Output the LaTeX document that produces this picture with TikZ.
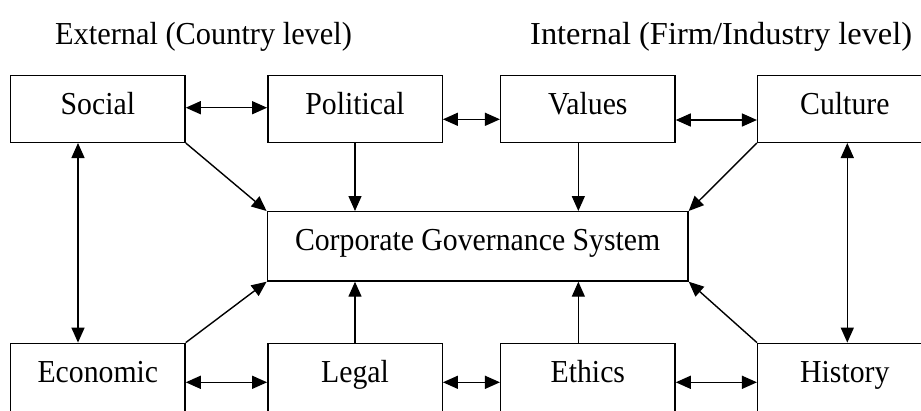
\documentclass[tikz,border=0pt]{standalone}
\usepackage{fontspec}
\usepackage{graphicx}
\setmainfont[FakeStretch=0.93]{Liberation Serif}
\usetikzlibrary{arrows.meta}
\tikzset{
  box/.style={draw, line width=1.4pt, rectangle, inner sep=0pt, minimum width=174.4pt, minimum height=66.6pt, text height=39pt, text depth=27.6pt},
  lowbox/.style={box, minimum height=68.4pt, text depth=29.4pt},
  corpbox/.style={draw, line width=1.4pt, rectangle, inner sep=0pt, minimum width=420.7pt, minimum height=69.3pt, text height=38.3pt, text depth=31pt},
  conn/.style={line width=1.4pt, -{Triangle[length=15pt,width=13pt]}},
  biconn/.style={line width=1.4pt, {Triangle[length=15pt,width=13pt]}-{Triangle[length=15pt,width=13pt]}},
  title/.style={anchor=base west, inner sep=0pt}
}
\begin{document}
\begin{tikzpicture}[x=1pt, y=-1pt, font=\fontsize{32}{36}\selectfont]
\useasboundingbox (0,0) rectangle (921,410);
\node[title] (ext) at (55,44.3) {\scalebox{1.02}[1]{External (Country level)}};
\node[title] (int) at (530,44.3) {\scalebox{1.09}[1]{Internal (Firm/Industry level)}};

\node[box] (social) at (97.85,109) {Social};
\node[box] (political) at (355,109) {Political};
\node[box] (values) at (587.85,109) {Values};
\node[box] (culture) at (844.85,109) {Culture};

\node[corpbox] (corp) at (477.65,246.35) {Corporate Governance System};

\node[lowbox] (economic) at (97.85,377.5) {Economic};
\node[lowbox] (legal) at (355,377.5) {Legal};
\node[lowbox] (ethics) at (587.85,377.5) {Ethics};
\node[lowbox] (history) at (844.85,377.5) {History};

% top row horizontal
\draw[biconn] ([yshift=1.3pt]social.east) -- ([yshift=1.3pt]political.west);
\draw[biconn] ([yshift=-10.3pt]political.east) -- ([yshift=-10.3pt]values.west);
\draw[biconn] ([yshift=-11pt]values.east) -- ([yshift=-11pt]culture.west);
% bottom row horizontal
\draw[biconn] ([yshift=-4.8pt]economic.east) -- ([yshift=-4.8pt]legal.west);
\draw[biconn] ([yshift=-4.8pt]legal.east) -- ([yshift=-4.8pt]ethics.west);
\draw[biconn] ([yshift=-4.8pt]ethics.east) -- ([yshift=-4.8pt]history.west);
% verticals
\draw[biconn] ([xshift=-19.85pt]social.south) -- ([xshift=-19.85pt]economic.north);
\draw[biconn] ([xshift=2.45pt]culture.south) -- ([xshift=2.45pt]history.north);
% into corp from top
\draw[conn] (social.south east) -- (corp.north west);
\draw[conn] (political.south) -- (political.south |- corp.north);
\draw[conn] ([xshift=-9.5pt]values.south) -- ([xshift=-9.5pt]values.south |- corp.north);
\draw[conn] (culture.south west) -- (corp.north east);
% into corp from bottom
\draw[conn] (economic.north east) -- (corp.south west);
\draw[conn] (legal.north) -- (legal.north |- corp.south);
\draw[conn] ([xshift=-9.5pt]ethics.north) -- ([xshift=-9.5pt]ethics.north |- corp.south);
\draw[conn] (history.north west) -- (corp.south east);
\end{tikzpicture}
\end{document}
